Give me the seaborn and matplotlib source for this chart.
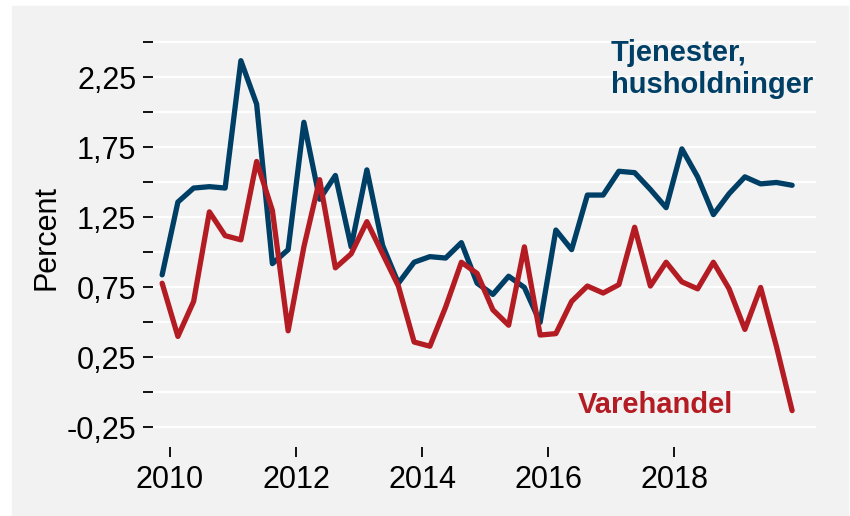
import pandas as pd
import matplotlib
matplotlib.use("Agg")
import matplotlib.pyplot as plt
from matplotlib.patches import Rectangle
import seaborn as sns

# --- data (quarterly 2009Q4 - 2019Q4) ---
quarters = pd.period_range("2009Q4", "2019Q4", freq="Q")

tjenester = [0.84, 1.36, 1.46, 1.47, 1.46, 2.37, 2.06, 0.92, 1.02, 1.93,
             1.38, 1.55, 1.04, 1.59, 1.05, 0.78, 0.93, 0.97, 0.96, 1.07,
             0.78, 0.70, 0.83, 0.75, 0.50, 1.16, 1.02, 1.41, 1.41, 1.58,
             1.57, 1.45, 1.32, 1.74, 1.54, 1.27, 1.42, 1.54, 1.49, 1.50,
             1.48]
varehandel = [0.78, 0.40, 0.65, 1.29, 1.12, 1.09, 1.65, 1.30, 0.44, 1.04,
              1.52, 0.89, 0.99, 1.22, 0.99, 0.76, 0.36, 0.33, 0.61, 0.93,
              0.85, 0.59, 0.48, 1.04, 0.41, 0.42, 0.65, 0.76, 0.71, 0.77,
              1.18, 0.76, 0.93, 0.79, 0.74, 0.93, 0.74, 0.45, 0.75, 0.33,
              -0.13]

series_names = ["Tjenester, husholdninger", "Varehandel"]
colors = {"Tjenester, husholdninger": "#003F65", "Varehandel": "#B41C24"}

x_ticks = [2010, 2012, 2014, 2016, 2018]
y_ticks = [-0.25, 0, 0.25, 0.5, 0.75, 1.0, 1.25, 1.5, 1.75, 2.0, 2.25, 2.5]
y_labels = ["-0,25", "", "0,25", "", "0,75", "", "1,25", "", "1,75", "", "2,25", ""]

# mid-quarter decimal year
t = [p.year + (p.quarter - 0.5) / 4 for p in quarters]
df = pd.DataFrame({
    "t": t * 2,
    "value": tjenester + varehandel,
    "serie": [series_names[0]] * len(t) + [series_names[1]] * len(t),
})

# --- style ---
bg = "#F2F2F2"
sns.set_theme(style="white", rc={"axes.facecolor": bg})
plt.rcParams["font.family"] = ["Liberation Sans", "DejaVu Sans"]

fig = plt.figure(figsize=(8.5, 5.16), dpi=100)
fig.patches.append(Rectangle((12 / 850, 0), 836 / 850, 510 / 516,
                             transform=fig.transFigure, color=bg, zorder=-5))
ax = fig.add_axes([153 / 850, 69 / 516, 663 / 850, 418.5 / 516])

sns.lineplot(data=df, x="t", y="value", hue="serie", palette=colors,
             linewidth=3.8, legend=False, ax=ax, zorder=3)

ax.set_xlim(2009.73, 2020.254)
ax.set_ylim(-0.39, 2.6)
ax.set_xticks(x_ticks)
ax.set_xticklabels([str(x) for x in x_ticks])
ax.set_yticks(y_ticks)
ax.set_yticklabels(y_labels)
ax.grid(axis="y", color="white", linewidth=1.6, zorder=0)
ax.grid(axis="x", visible=False)
for s in ax.spines.values():
    s.set_visible(False)
ax.tick_params(axis="both", bottom=True, left=True, labelsize=22,
               colors="black", length=7, width=1.3, direction="out", pad=5)
ax.tick_params(axis="x", pad=6)
ax.set_xlabel("")
ax.set_ylabel("Percent", fontsize=22, labelpad=4, color="black")

ax.text(2017.0, 2.525, "Tjenester,\nhusholdninger", ha="left", va="top",
        fontsize=21, fontweight="bold", color=colors["Tjenester, husholdninger"],
        linespacing=1.2)
ax.text(2017.70, -0.09, "Varehandel", ha="center", va="center",
        fontsize=21, fontweight="bold", color=colors["Varehandel"])

fig.savefig("out.png", dpi=100, facecolor="white")
